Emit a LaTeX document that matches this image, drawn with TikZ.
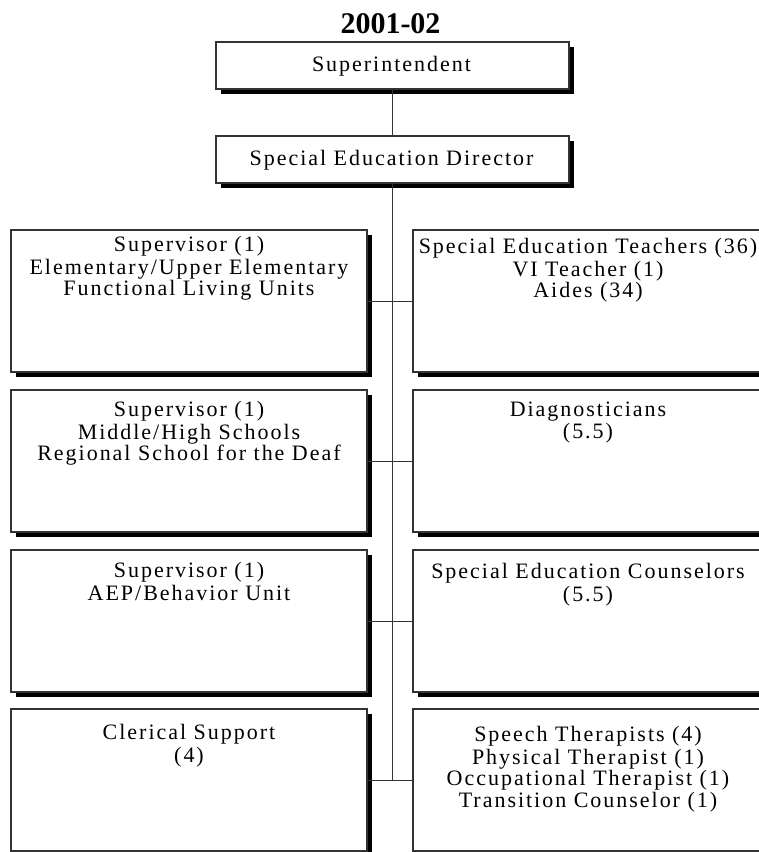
\documentclass[tikz,border=0pt]{standalone}
\usepackage{fontspec}
\setmainfont{Liberation Serif}
\newfontfamily\chartfont[LetterSpace=9]{Liberation Serif}
\usetikzlibrary{shadows}
\definecolor{edgegray}{HTML}{333333}
\tikzset{
  orgbox/.style={draw=edgegray, line width=1.3pt, fill=white, inner sep=0pt, outer sep=0pt,
    anchor=north west,
    drop shadow={shadow xshift=4.5pt, shadow yshift=-4.5pt, fill=black, opacity=1}},
  topbox/.style={orgbox, minimum width=353pt, minimum height=47pt},
  leftbox/.style={orgbox, minimum width=356pt, minimum height=142pt},
  rightbox/.style={orgbox, minimum width=352pt, minimum height=142pt},
  boxtext/.style={anchor=north, inner sep=0pt, align=center,
    font=\chartfont\fontsize{22}{21.5}\selectfont},
  titletext/.style={anchor=base, inner sep=0pt, font=\bfseries\fontsize{30}{30}\selectfont},
  link/.style={draw=edgegray, line width=1pt}
}
\begin{document}
\begin{tikzpicture}[x=1pt,y=-1pt]
\useasboundingbox (0,0) rectangle (759,852);
\clip (0,0) rectangle (759,852);

% heading
\node[titletext] (title) at (390.5,33) {2001-02};

% top of the chain
\node[topbox] (sup) at (216,42) {};
\node[topbox] (dir) at (216,136) {};

% left column
\node[leftbox] (l1) at (11,230) {};
\node[leftbox] (l2) at (11,390) {};
\node[leftbox] (l3) at (11,550) {};
\node[leftbox] (l4) at (11,709) {};

% right column
\node[rightbox] (r1) at (413,230) {};
\node[rightbox] (r2) at (413,390) {};
\node[rightbox] (r3) at (413,550) {};
\node[rightbox] (r4) at (413,709) {};

% connectors
\coordinate (trunkend) at (dir.south |- l4.east);
\draw[link] (sup.south) -- (dir.north);
\draw[link] (dir.south) -- (trunkend);
\draw[link] (l1.east) -- (r1.west);
\draw[link] (l2.east) -- (r2.west);
\draw[link] (l3.east) -- (r3.west);
\draw[link] (l4.east) -- (r4.west);

% box texts
\node[boxtext] (supT) at (391.5,56.5) {\strut Superintendent};
\node[boxtext] (dirT) at (391.5,150.5) {\strut Special Education Director};

\node[boxtext] (l1T) at (189,236) {\strut Supervisor (1)\\Elementary/Upper Elementary\\Functional Living Units};
\node[boxtext] (r1T) at (588,238) {\strut Special Education Teachers (36)\\VI Teacher (1)\\Aides (34)};

\node[boxtext] (l2T) at (189,401) {\strut Supervisor (1)\\Middle/High Schools\\Regional School for the Deaf};
\node[boxtext] (r2T) at (588,401) {\strut Diagnosticians\\(5.5)};

\node[boxtext] (l3T) at (189,562) {\strut Supervisor (1)\\AEP/Behavior Unit};
\node[boxtext] (r3T) at (588,563) {\strut Special Education Counselors\\(5.5)};

\node[boxtext] (l4T) at (189,724) {\strut Clerical Support\\(4)};
\node[boxtext] (r4T) at (588,726) {\strut Speech Therapists (4)\\Physical Therapist (1)\\Occupational Therapist (1)\\Transition Counselor (1)};
\end{tikzpicture}
\end{document}
